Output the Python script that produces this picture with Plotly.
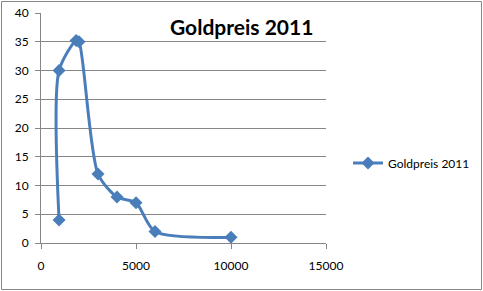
import plotly.graph_objects as go

x_values = [950, 950, 1850, 2000, 3000, 4000, 5000, 6000, 10000]
y_values = [4, 30, 35.2, 35, 12, 8, 7, 2, 1]
series_name = "Goldpreis 2011"
chart_title = "Goldpreis 2011"

W, H = 483, 291
L, R, T, B = 41, 157, 13, 48
pw, ph = W - L - R, H - T - B

def px_x(p):
    return (p - L) / pw

def px_y(p):
    return (H - B - p) / ph

blue = "#4A7EBB"
grid = "#868686"
font_family = "Lato, 'Open Sans', sans-serif"

fig = go.Figure()
fig.add_trace(go.Scatter(
    x=x_values, y=y_values, name=series_name, mode="lines+markers",
    line=dict(color=blue, width=3, shape="spline", smoothing=0.75),
    marker=dict(symbol="diamond", size=10, color=blue),
))

fig.update_layout(
    width=W, height=H,
    margin=dict(l=L, r=R, t=T, b=B, autoexpand=False),
    paper_bgcolor="white", plot_bgcolor="white",
    font=dict(family=font_family, size=12, color="#000000"),
    showlegend=True,
    legend=dict(x=px_x(348), y=px_y(163), xanchor="left", yanchor="middle",
                font=dict(size=12, family=font_family), bgcolor="rgba(0,0,0,0)",
                itemwidth=30, tracegroupgap=0),
    xaxis=dict(range=[0, 15000], tickvals=[0, 5000, 10000, 15000],
               ticktext=["0", "5000", "10000", "15000"],
               showgrid=False, zeroline=False, showline=True, linecolor=grid, linewidth=1,
               ticks="outside", ticklen=5, tickcolor=grid, ticklabelstandoff=7,
               tickfont=dict(size=12)),
    yaxis=dict(range=[0, 40], tickvals=[0, 5, 10, 15, 20, 25, 30, 35, 40],
               showgrid=True, gridcolor=grid, gridwidth=1, zeroline=False,
               showline=True, linecolor=grid, linewidth=1,
               ticks="outside", ticklen=5, tickcolor=grid, ticklabelstandoff=4,
               tickfont=dict(size=12)),
    annotations=[dict(text="<b>" + chart_title + "</b>", xref="paper", yref="paper",
                      x=px_x(241), y=px_y(27), xanchor="center", yanchor="middle",
                      showarrow=False, font=dict(size=21, family=font_family, color="#000000"))],
    shapes=[dict(type="rect", xref="paper", yref="paper",
                 x0=px_x(1.5), x1=px_x(481.5), y0=px_y(289.5), y1=px_y(1.5),
                 line=dict(color="#868686", width=1), layer="below")],
)

fig.write_html("out.html")
